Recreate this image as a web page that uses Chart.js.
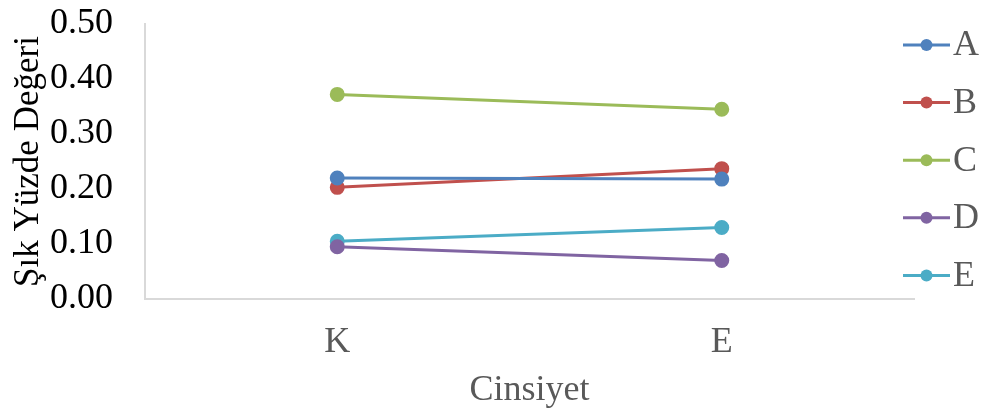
<!DOCTYPE html>
<html>
<head>
<meta charset="utf-8">
<script src="https://cdn.jsdelivr.net/npm/chart.js@4"></script>
<style>
  html, body { margin: 0; padding: 0; background: #fff; }
</style>
</head>
<body>
<canvas id="myChart" width="982" height="412"></canvas>
<script>
// veriler
const categories = ['K', 'E'];
const seriesNames = ['A', 'B', 'C', 'D', 'E'];
const valA = [0.220, 0.218];
const valB = [0.203, 0.237];
const valC = [0.372, 0.345];
const valD = [0.095, 0.070];
const valE = [0.105, 0.130];
const yTicks = [0.00, 0.10, 0.20, 0.30, 0.40, 0.50];
const colors = ['#4F81BD', '#C0504D', '#9BBB59', '#8064A2', '#4BACC6'];

const FONT = "'Liberation Serif', 'Times New Roman', serif";

// legend drawn on the right: line + dot + label
const sideLegend = {
    id: 'sideLegend',
    afterDraw(chart) {
        const ctx = chart.ctx;
        const area = chart.chartArea;
        ctx.save();
        chart.data.datasets.forEach((ds, i) => {
            const y = area.top + 21 + i * 57.6;
            const x0 = 903, x1 = 950;
            ctx.strokeStyle = ds.borderColor;
            ctx.lineWidth = 3;
            ctx.beginPath();
            ctx.moveTo(x0, y);
            ctx.lineTo(x1, y);
            ctx.stroke();
            ctx.fillStyle = ds.borderColor;
            ctx.beginPath();
            ctx.arc((x0 + x1) / 2, y, 6, 0, Math.PI * 2);
            ctx.fill();
            ctx.fillStyle = '#595959';
            ctx.font = '36px ' + FONT;
            ctx.textBaseline = 'middle';
            ctx.textAlign = 'left';
            ctx.fillText(ds.label, x1 + 3, y + 1);
        });
        ctx.restore();
    }
};

const allValues = [valA, valB, valC, valD, valE];

const dataset = {
    labels: categories,
    datasets: seriesNames.map((name, i) => ({
        label: name,
        data: allValues[i],
        borderColor: colors[i],
        backgroundColor: colors[i],
        borderWidth: 3,
        pointRadius: 6,
        pointHoverRadius: 6,
        tension: 0
    }))
};

const config = {
    type: 'line',
    data: dataset,
    options: {
        responsive: false,
        animation: false,
        layout: { padding: { left: 8, right: 68, top: 24, bottom: 0 } },
        plugins: {
            legend: { display: false },
            tooltip: { enabled: false }
        },
        scales: {
            x: {
                offset: true,
                grid: { display: false, drawTicks: false },
                border: { color: '#d9d9d9', width: 2 },
                ticks: { color: '#595959', font: { family: FONT, size: 36 }, padding: 22 },
                title: { display: true, text: 'Cinsiyet', color: '#595959', font: { family: FONT, size: 36 }, padding: { top: 5, bottom: 0 } },
                afterFit: (scale) => { scale.height = 113; }
            },
            y: {
                min: 0,
                max: 0.5,
                afterBuildTicks: (axis) => { axis.ticks = yTicks.map(v => ({ value: v })); },
                grid: { display: false, drawTicks: false },
                border: { color: '#d9d9d9', width: 2 },
                ticks: {
                    color: '#000',
                    autoSkip: false,
                    font: { family: FONT, size: 36 },
                    padding: 32,
                    callback: (v) => Number(v).toFixed(2)
                },
                title: { display: true, text: 'Şık Yüzde Değeri', color: '#000', font: { family: FONT, size: 35 }, padding: { top: 0, bottom: 0 } },
                afterFit: (scale) => {
                    scale.width = 137;
                    scale.paddingTop = 0;
                    scale.paddingBottom = 0;
                }
            }
        }
    },
    plugins: [sideLegend]
};

const chart = new Chart(document.getElementById('myChart'), config);
</script>
</body>
</html>
